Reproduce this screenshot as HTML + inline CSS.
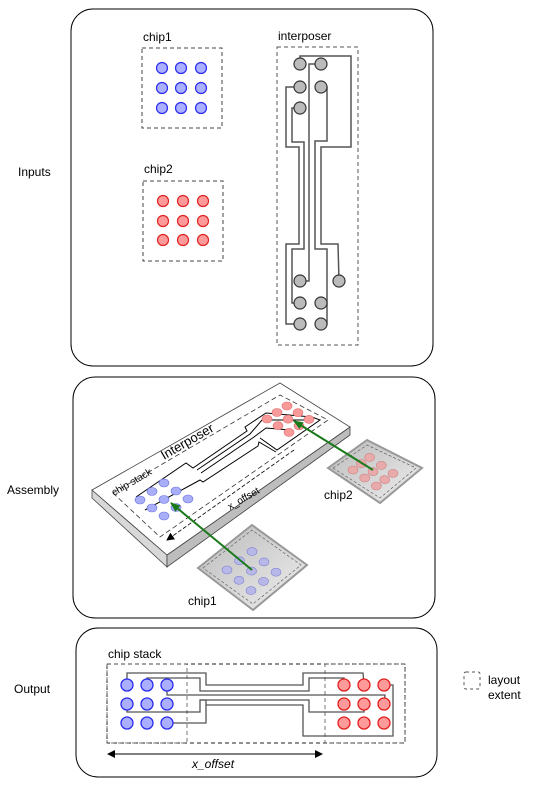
<!DOCTYPE html>
<html><head><meta charset="utf-8"><style>
html,body{margin:0;padding:0;background:#fff}
svg{display:block;font-family:"Liberation Sans",Arial,sans-serif}
</style></head><body>
<svg id="s" width="542" height="792" viewBox="0 0 542 792" xmlns="http://www.w3.org/2000/svg">
<defs>
<marker id="ah" markerWidth="8" markerHeight="8" refX="7" refY="4" orient="auto-start-reverse" markerUnits="userSpaceOnUse"><path d="M0,0 L8,4 L0,8 z" fill="#000"/></marker>
<marker id="gh" markerWidth="10" markerHeight="10" refX="9" refY="5" orient="auto" markerUnits="userSpaceOnUse"><path d="M0,1 L10,5 L0,9 z" fill="#1a7a1a"/></marker>
<linearGradient id="tile" x1="0" y1="0" x2="1" y2="1"><stop offset="0" stop-color="#bbb"/><stop offset="1" stop-color="#eee"/></linearGradient>
</defs>

<rect x="71" y="9" width="362" height="357" rx="22" fill="#fff" stroke="#000" stroke-width="1"/>
<rect x="73" y="377" width="362" height="241" rx="22" fill="#fff" stroke="#000" stroke-width="1"/>
<rect x="76" y="628" width="361" height="149" rx="22" fill="#fff" stroke="#000" stroke-width="1"/>
<text x="18" y="176" font-size="12">Inputs</text>
<text x="7" y="494" font-size="12">Assembly</text>
<text x="14" y="693" font-size="12">Output</text>

<g>
<text x="143" y="41" font-size="12">chip1</text>
<rect x="142" y="48" width="80" height="80" fill="none" stroke="#444" stroke-dasharray="4,3"/>
<g id="c1"></g>
</g>
<g>
<text x="144" y="173" font-size="12">chip2</text>
<rect x="143" y="181" width="80" height="80" fill="none" stroke="#444" stroke-dasharray="4,3"/>
<g id="c2"></g>
</g>
<g>
<text x="278" y="40" font-size="12">interposer</text>
<rect x="277" y="47" width="81" height="298" fill="none" stroke="#555" stroke-dasharray="4,3"/>
<g fill="none" stroke="#555" stroke-width="1.5">
<polyline points="300,64 300,56 351,56 351,147 321,147 321,244 338,244 339,281"/>
<polyline points="321,64 309,64 309,281 300,281"/>
<polyline points="300,87 286,87 286,147 299,147 299,244 286,244 286,324 300,324"/>
<polyline points="321,87 327,87 327,141 315,141 315,249 327,249 327,324 321,324"/>
<polyline points="300,108 292,108 292,142 304,142 304,249 292,249 292,303 300,303"/>
<polyline points="321,303 327,303"/>
</g>
<g id="ip"></g>
</g>

<g>
<polygon points="92,490 167,555 167,567 92,498" fill="#d8d8d8" stroke="#444" stroke-width="0.8"/>
<polygon points="167,555 350,427 350,435 167,567" fill="#bdbdbd" stroke="#444" stroke-width="0.8"/>
<polygon points="92,490 280,383 350,427 167,555" fill="#fff" stroke="#444" stroke-width="0.8"/>
<polygon points="113,493 280,395 328,420 160,537" fill="none" stroke="#333" stroke-width="0.8" stroke-dasharray="5,3"/>
<text x="0" y="0" font-size="13" transform="translate(164,460) rotate(-30)">Interposer</text>
<text x="0" y="0" font-size="10" transform="translate(114,496) rotate(-30)">chip stack</text>
<text x="0" y="0" font-size="10" transform="translate(230,510) rotate(-30)">x_offset</text>
<line x1="294" y1="450" x2="167" y2="540" stroke="#000" stroke-width="0.8" stroke-dasharray="4,2" marker-end="url(#ah)"/>
<g fill="none" stroke="#000" stroke-width="1">
<polyline points="136,497 186,463 193,468 247,431 245,427 266,413 312,417 320,420 277,450 260,438"/>
<polyline points="197,470 250,434 262,420 305,420"/>
<polyline points="201,473 254,437 266,428 290,430"/>
<polyline points="145,510 200,480 203,482 258,446 259,442 276,452"/>
</g>
<g id="ab"></g><g id="ar"></g>
</g>
<g>
<polygon points="198,568 252,525 307,565 253,610" fill="url(#tile)" stroke="#999" stroke-width="2"/>
<polygon points="203,568 252,530 301,565 253,604" fill="none" stroke="#555" stroke-width="0.6" stroke-dasharray="3,2"/>
<g id="t1"></g>
<text x="188" y="605" font-size="12">chip1</text>
</g>
<g>
<polygon points="328,468 367,440 422,468 380,503" fill="url(#tile)" stroke="#999" stroke-width="2"/>
<polygon points="333,468 367,445 416,468 380,498" fill="none" stroke="#555" stroke-width="0.6" stroke-dasharray="3,2"/>
<g id="t2"></g>
<text x="324" y="499" font-size="12">chip2</text>
</g>
<line x1="252" y1="570" x2="171" y2="503" stroke="#1a7a1a" stroke-width="2" marker-end="url(#gh)"/>
<line x1="373" y1="470" x2="294" y2="421" stroke="#1a7a1a" stroke-width="2" marker-end="url(#gh)"/>

<g>
<text x="108" y="658" font-size="12">chip stack</text>
<rect x="107" y="664" width="298" height="79" fill="none" stroke="#222" stroke-dasharray="4,3"/>
<rect x="107" y="664" width="80" height="79" fill="none" stroke="#555" stroke-dasharray="4,3" stroke-width="0.8"/>
<rect x="325" y="664" width="80" height="79" fill="none" stroke="#555" stroke-dasharray="4,3" stroke-width="0.8"/>
<g fill="none" stroke="#555" stroke-width="1.3">
<polyline points="127,685 127,673 206,673 206,685 303,685 303,673 363,673 364,685"/>
<polyline points="147,685 147,678 200,678 200,691 309,691 309,678 344,678 344,685"/>
<polyline points="167,685 167,695 385,695 384,704"/>
<polyline points="384,685 393,685 393,736 303,736 303,705 206,705 206,700 200,700"/>
<polyline points="127,704 127,712 200,712 200,700 309,700 309,712 364,712 364,704"/>
<polyline points="167,723 206,723 206,705"/>
</g>
<g id="ob"></g><g id="or"></g>
<line x1="108" y1="754" x2="322" y2="754" stroke="#000" stroke-width="1" marker-end="url(#ah)" marker-start="url(#ah)"/>
<text x="192" y="768" font-size="12" font-style="italic">x_offset</text>
</g>
<g>
<rect x="464" y="672" width="16" height="17" rx="2" fill="none" stroke="#555" stroke-dasharray="3,3"/>
<text x="488" y="684" font-size="12">layout</text>
<text x="488" y="699" font-size="12">extent</text>
</g>
</svg>
<script>
const NS="http://www.w3.org/2000/svg";
const chip1Cols=[162,181,201], chip1Rows=[68,88,108];
const chip2Cols=[163,183,203], chip2Rows=[201,221,240];
const interposerPads=[[300,64],[321,64],[300,87],[321,87],[300,108],[300,281],[339,281],[300,303],[321,303],[300,324],[321,324]];
const outCols1=[127,147,167], outCols2=[344,364,384], outRows=[685,704,723];
const gridIdx=[0,1,2];
// isometric grids: origin, u step, v step
const asmBlueGrid=[[140,500],[12,-8.5],[12,8]];
const asmRedGrid=[[267,419],[10,-6.5],[11,6.7]];
const tile1Grid=[[227,570],[12.5,-9.2],[12,10.3]];
const tile2Grid=[[353,470],[8.3,-6.3],[11.7,8]];
function circ(g,x,y,r,fill,stroke,sw){const c=document.createElementNS(NS,'circle');


c.setAttribute('cx',x);c.setAttribute('cy',y);c.setAttribute('r',r);c.setAttribute('fill',fill);c.setAttribute('stroke',stroke);c.setAttribute('stroke-width',sw);g.appendChild(c);}
function ell(g,x,y,fill,stroke){const c=document.createElementNS(NS,'ellipse');


c.setAttribute('cx',x);c.setAttribute('cy',y);c.setAttribute('rx',5);c.setAttribute('ry',4);c.setAttribute('fill',fill);c.setAttribute('stroke',stroke);c.setAttribute('stroke-width',0.6);g.appendChild(c);}
function iso(g,G,fill,stroke){gridIdx.forEach(i=>gridIdx.forEach(j=>ell(g,G[0][0]+i*G[1][0]+j*G[2][0],G[0][1]+i*G[1][1]+j*G[2][1],fill,stroke)));}
const $=id=>document.getElementById(id);
chip1Rows.forEach(y=>chip1Cols.forEach(x=>circ($('c1'),x,y,5.5,'#aab0ff','#2a2aee',1.2)));
chip2Rows.forEach(y=>chip2Cols.forEach(x=>circ($('c2'),x,y,5.5,'#ff9a9a','#e02020',1.2)));
interposerPads.forEach(p=>circ($('ip'),p[0],p[1],6,'#bbb','#333',1.2));
outRows.forEach(y=>outCols1.forEach(x=>circ($('ob'),x,y,6,'#aab0ff','#2a2aee',1.3)));
outRows.forEach(y=>outCols2.forEach(x=>circ($('or'),x,y,6,'#ff9a9a','#e02020',1.3)));
iso($('ab'),asmBlueGrid,'#a8aef8','#6a70e0');
iso($('ar'),asmRedGrid,'#f89a9a','#e06a6a');
iso($('t1'),tile1Grid,'#b8b8e8','#8080d0');
iso($('t2'),tile2Grid,'#e8aaaa','#d08080');
</script>
</body></html>
